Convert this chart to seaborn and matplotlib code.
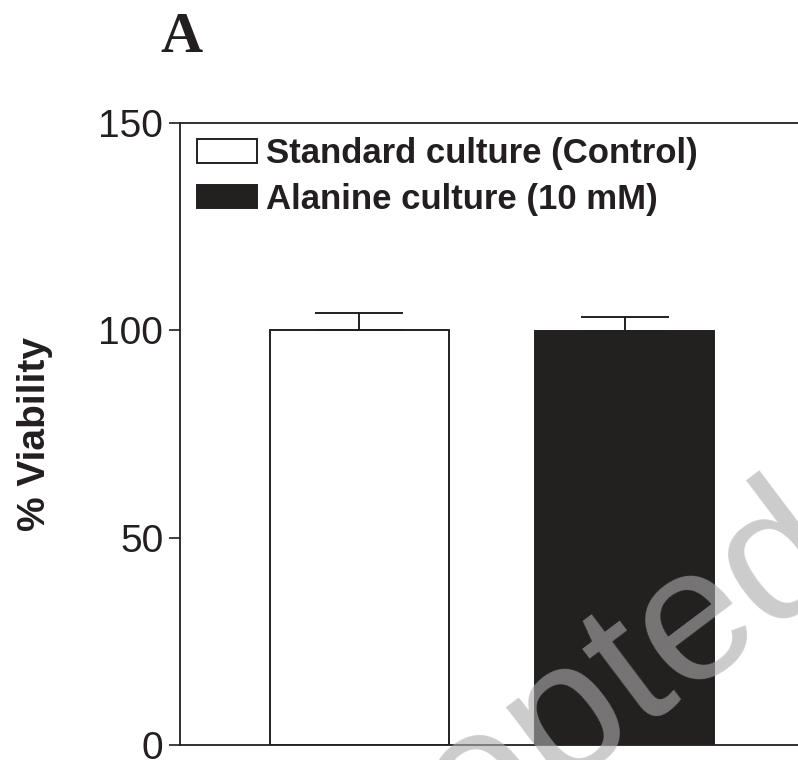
import matplotlib
matplotlib.use("Agg")
import matplotlib.pyplot as plt
import seaborn as sns
import pandas as pd

# Cell viability (% of control) with upper SEM
groups = ["Standard culture (Control)", "Alanine culture (10 mM)"]
viability = [100.0, 99.8]
sem = [4.1, 3.5]
bar_colors = ["#ffffff", "#231f20"]

DARK = "#231f20"

sns.set_theme(style="white")
plt.rcParams["font.family"] = ["Liberation Sans", "DejaVu Sans"]

df = pd.DataFrame({"group": groups, "viability": viability})

fig = plt.figure(figsize=(7.98, 7.60), dpi=100)
ax = fig.add_axes([180 / 798, 15 / 760, 624 / 798, 622 / 760])

sns.barplot(data=df, x="group", y="viability", hue="group", palette=bar_colors,
            order=groups, hue_order=groups, width=0.673, edgecolor=DARK,
            linewidth=1.4, legend=False, ax=ax, errorbar=None)

# upper-only error bars
ax.errorbar(range(len(groups)), viability, yerr=[[0] * len(sem), sem],
            fmt="none", ecolor=DARK, elinewidth=1.4, capsize=32, capthick=1.4,
            zorder=1)

ax.set_xlim(-0.673, 1.673)
ax.set_ylim(0, 150)
ax.set_yticks([0, 50, 100, 150])
ax.set_xticks([])
ax.set_xlabel("")
ax.set_ylabel("% Viability", fontsize=28, fontweight="bold", color=DARK)
ax.yaxis.set_label_coords(-0.203, 0.5)
ax.tick_params(axis="y", which="major", direction="out", length=8, width=1.2,
               color=DARK, labelsize=28, labelcolor=DARK, pad=4, left=True)
for side in ["left", "bottom", "top", "right"]:
    ax.spines[side].set_color(DARK)
    ax.spines[side].set_linewidth(1.3)

# legend built from the drawn bars
handles = [ax.patches[0], ax.patches[1]]
leg = ax.legend(handles, groups, loc="upper left", bbox_to_anchor=(0.027, 0.977),
                frameon=False, borderpad=0, borderaxespad=0,
                handlelength=1.74, handleheight=0.66, handletextpad=0.26,
                labelspacing=0.36, prop={"weight": "bold", "size": 25})
for t in leg.get_texts():
    t.set_color(DARK)

fig.text(160 / 798, 1 - 52 / 760, "A", fontsize=42, fontweight="bold",
         family=["Liberation Serif", "DejaVu Serif"], color=DARK,
         ha="left", va="baseline")

# watermark
fig.text(853 / 798, 1 - 571 / 760, "Accepted", fontsize=137, color="#acacac",
         alpha=0.61, rotation=37, rotation_mode="anchor", ha="right",
         va="baseline", zorder=10)

fig.savefig("out.png", dpi=100)
